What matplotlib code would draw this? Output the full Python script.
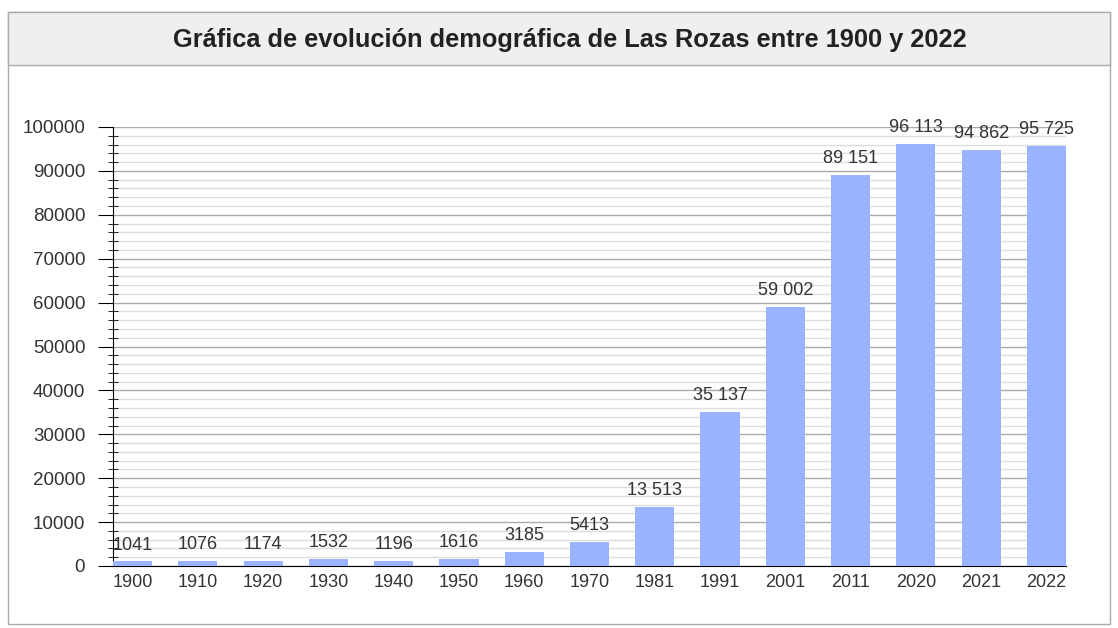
import matplotlib.pyplot as plt
from matplotlib.patches import Rectangle
from matplotlib.ticker import MultipleLocator

# Datos
anios = ['1900', '1910', '1920', '1930', '1940', '1950', '1960', '1970',
         '1981', '1991', '2001', '2011', '2020', '2021', '2022']
habitantes = [1041, 1076, 1174, 1532, 1196, 1616, 3185, 5413,
              13513, 35137, 59002, 89151, 96113, 94862, 95725]

plt.rcParams['font.family'] = ['Liberation Sans', 'DejaVu Sans']

fig = plt.figure(figsize=(11.18, 6.28), dpi=100)

# marco y banda del titulo
fig.patches.append(Rectangle((8 / 1118, 1 - 624 / 628), 1102 / 1118, 612 / 628,
                             transform=fig.transFigure, facecolor='white',
                             edgecolor='#aaaaaa', lw=1, zorder=-2))
fig.patches.append(Rectangle((8 / 1118, 1 - 65 / 628), 1102 / 1118, 53 / 628,
                             transform=fig.transFigure, facecolor='#efefef',
                             edgecolor='#aaaaaa', lw=1, zorder=-1))
fig.text(570 / 1118, 1 - 40 / 628,
         'Gráfica de evolución demográfica de Las Rozas entre 1900 y 2022',
         ha='center', va='center', fontsize=18.3, fontweight='bold', color='#222222')

ax = fig.add_axes([113 / 1118, 1 - 566 / 628, 953 / 1118, 439 / 628])
ax.set_zorder(2)
ax.patch.set_alpha(0)
x = range(len(anios))
ax.bar(x, habitantes, width=0.6, color='#99b3ff', zorder=3)

for i, v in enumerate(habitantes):
    txt = f'{v:,}'.replace(',', ' ') if v >= 10000 else str(v)
    ax.text(i, v + 1800, txt, ha='center', va='bottom', fontsize=13, color='#333333', zorder=4)

ax.set_xlim(-0.3, 14.3)
ax.set_ylim(0, 100000)
ax.set_xticks(list(x))
ax.set_xticklabels(anios)
ax.yaxis.set_major_locator(MultipleLocator(10000))
ax.yaxis.set_minor_locator(MultipleLocator(2000))
ax.grid(axis='y', which='major', color='#aaaaaa', lw=1, zorder=0)
ax.grid(axis='y', which='minor', color='#dddddd', lw=1, zorder=0)

for s in ['top', 'right']:
    ax.spines[s].set_visible(False)
ax.spines['left'].set_color('black')
ax.spines['bottom'].set_color('black')
ax.tick_params(axis='x', length=0, labelsize=13, labelcolor='#333333', pad=6)
ax.tick_params(axis='y', which='major', direction='out', length=11, labelsize=13.5,
               labelcolor='#333333', pad=9)
ax.tick_params(axis='y', which='minor', direction='inout', length=7)

plt.savefig('out.png', dpi=100)
